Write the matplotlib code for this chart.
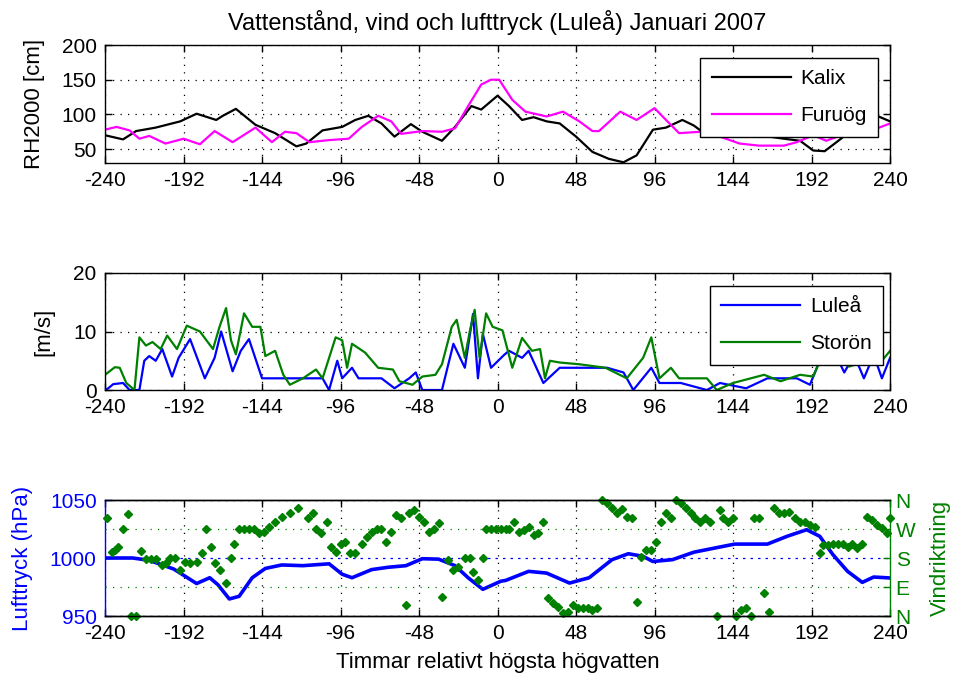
import matplotlib
matplotlib.use('Agg')
import matplotlib.pyplot as plt

plt.rcParams['font.family'] = ['Liberation Sans', 'DejaVu Sans']
plt.rcParams['font.size'] = 15
plt.rcParams['axes.unicode_minus'] = False

# ---------------- data ----------------
xticks = [-240, -192, -144, -96, -48, 0, 48, 96, 144, 192, 240]

kalix_h = [-240, -229, -221, -209, -194, -184, -172, -168, -160, -148, -136, -123, -117,
           -107, -95, -87, -79, -71, -63, -53, -46, -34, -26, -16, -10, 0, 7, 15, 22, 30,
           38, 48, 58, 68, 77, 85, 95, 103, 113, 120, 124, 135, 145, 160, 175, 185, 193,
           200, 210, 220, 230, 240]
kalix_v = [70, 64, 76, 81, 90, 101, 92, 98, 108, 85, 73, 54, 58,
           77, 82, 92, 98, 87, 68, 86, 75, 62, 82, 112, 107, 127, 112, 92, 96, 90,
           87, 68, 46, 36, 31, 41, 78, 81, 92, 84, 77, 72, 75, 70, 65, 62, 48,
           47, 65, 85, 100, 90]

furuog_h = [-240, -233, -225, -219, -213, -203, -192, -182, -173, -162, -148, -138, -130,
            -123, -115, -103, -91, -83, -73, -65, -59, -46, -34, -26, -18, -10, -4, 1, 9,
            17, 30, 40, 50, 58, 62, 75, 85, 96, 103, 111, 124, 136, 148, 160, 175, 183,
            193, 201, 210, 220, 230, 240]
furuog_v = [78, 82, 77, 65, 69, 58, 65, 57, 76, 60, 81, 60, 75,
            73, 60, 63, 65, 82, 98, 90, 72, 76, 75, 80, 112, 143, 150, 150, 121,
            104, 97, 104, 90, 76, 76, 104, 92, 109, 92, 73, 75, 68, 58, 55, 55, 60,
            70, 62, 70, 75, 78, 87]

lulea_h = [-240, -238, -235, -229, -225, -219, -216, -213, -209, -205, -199, -195, -188,
           -179, -173, -169, -162, -157, -152, -144, -107, -103, -98, -95, -89, -85, -71,
           -63, -54, -50, -46, -34, -27, -20, -15, -12, -9, -4, 4, 7, 15, 19, 28, 38, 50,
           67, 77, 83, 94, 99, 112, 128, 136, 152, 165, 183, 191, 197, 205, 212, 218,
           224, 230, 235, 240]
lulea_v = [0, 0.3, 1, 1.2, 0, 0, 5, 5.8, 5, 7, 2.3, 5.5, 8.7,
           2, 5.5, 10, 3.2, 6.7, 8.7, 2, 2, 0, 5, 2, 3.8, 2, 2,
           0.3, 2, 3, 0, 0, 7.9, 3.8, 13, 2, 9.6, 3.8, 6, 6.7, 5.5, 6.7, 1.2, 3.8, 3.8,
           3.8, 3, 0, 3.8, 1.2, 1.2, 0, 1.2, 0.3, 2, 2, 0.9, 5, 7, 3, 6,
           2, 6, 2, 5.5]

storon_h = [-240, -234, -231, -227, -222, -219, -215, -211, -206, -202, -196, -190, -182,
            -174, -170, -166, -163, -160, -155, -150, -145, -142, -136, -131, -127, -119,
            -111, -107, -99, -95, -92, -89, -81, -73, -64, -60, -52, -46, -38, -34, -28,
            -25, -20, -17, -14, -11, -7, -3, 3, 9, 15, 21, 26, 29, 32, 38, 50, 66, 79, 89,
            94, 99, 106, 111, 128, 134, 144, 163, 173, 185, 193, 197, 205, 215, 225, 235,
            240]
storon_v = [2.6, 3.9, 3.8, 1.2, 0, 9, 7.6, 8.2, 7, 9.3, 7, 11, 10,
            7, 10.8, 14, 8.5, 6.1, 13.1, 10.8, 10.8, 5.8, 6.7, 2.6, 0.9, 2,
            3.5, 2, 9, 8.5, 3.8, 7.9, 6.4, 3.8, 3.5, 1.5, 0.9, 2.3, 2.6, 4.4, 10.8,
            12, 5.5, 10, 13.7, 5.5, 13.1, 10.8, 10.2, 3.8, 8.9, 6.7, 7, 2, 5, 4.7, 4.4, 3.8, 2, 5.5,
            9, 2, 3.8, 2, 2, 0, 1.2, 2.6, 1.5, 2.6, 2.3, 5, 6, 4, 5, 5,
            6.7]

pres_h = [-240, -223, -213, -198, -184, -176, -171, -164, -158, -150, -142, -132, -119,
          -103, -95, -89, -77, -67, -56, -46, -36, -26, -18, -9, 2, 5, 19, 30, 44, 56, 70,
          80, 89, 95, 107, 120, 136, 145, 165, 177, 189, 197, 205, 214, 223, 230, 240]
pres_v = [1000, 1000, 998, 990.5, 978, 983, 977, 964.7, 967, 983, 991, 994, 993.4,
          995, 986, 983, 990, 992, 993.4, 999.4, 999, 993.4, 983, 973, 980, 980.7, 988.5,
          987, 978.4, 983, 998.6, 1003.7, 1001.4, 997, 998.6, 1005, 1009.5, 1012, 1012,
          1018.7, 1024.4, 1018.7, 1003, 988.5, 979, 983.6, 982.8]

dir_h = [-239, -236, -234, -232, -229, -226, -224, -221, -218, -215, -212, -209, -205,
         -203, -200, -197, -194, -191, -188, -184, -181, -178, -175, -173, -170, -166,
         -163, -161, -158, -155, -152, -149, -146, -143, -140, -136, -132, -127, -122,
         -116, -113, -111, -108, -104, -102, -99, -96, -93, -90, -87, -83, -80, -77, -74,
         -71, -68, -65, -62, -59, -56, -54, -51, -48, -45, -42, -39, -36, -34, -30, -27,
         -24, -20, -17, -15, -12, -9, -7, -4, -1, 2, 5, 7, 10, 13, 16, 19, 22, 25, 28, 31,
         34, 37, 40, 43, 46, 49, 52, 55, 58, 61, 64, 67, 70, 73, 76, 79, 82, 85, 88, 91,
         94, 97, 100, 103, 106, 109, 112, 115, 118, 121, 124, 127, 130, 134, 136, 138,
         141, 144, 146, 149, 152, 155, 157, 160, 163, 166, 169, 172, 175, 178, 182, 185,
         188, 191, 194, 197, 199, 202, 205, 208, 211, 214, 217, 220, 223, 226, 229, 232,
         235, 238, 240]
dir_v = [303, 200, 205, 215, 269, 317, 0, 0, 203, 178, 178, 178, 158,
         163, 179, 179, 143, 169, 166, 169, 194, 269, 213, 166, 143, 101,
         179, 225, 269, 269, 269, 269, 257, 262, 277, 293, 308, 321, 334,
         303, 319, 269, 257, 293, 215, 200, 225, 231, 194, 194, 225, 246, 262, 269,
         269, 231, 262, 313, 303, 34, 319, 329, 308, 293, 262, 269, 288, 60, 174, 143,
         153, 179, 179, 138, 112, 179, 269, 269, 269, 269, 269, 269, 293, 262, 267, 277, 251, 257, 293, 55,
         39, 29, 8, 13, 34, 24, 24, 24, 19, 24, 360, 350, 334, 319, 331, 308, 303, 44, 184, 205,
         205, 231, 293, 319, 303, 360, 350, 334, 319, 303, 293, 303, 293, 0, 329, 303,
         293, 303, 0, 19, 24, 0, 303, 303, 72, 13, 334, 319, 319, 324, 303, 293,
         293, 282, 277, 194, 220, 220, 225, 225, 225, 215, 225, 210, 225, 308, 298, 282,
         272, 257, 303]

dir_ticks = [0, 90, 180, 270, 360]
dir_labels = ['N', 'E', 'S', 'W', 'N']

# ---------------- figure ----------------
GREEN = (0, 0.5, 0)
BLUE = (0, 0, 1)
GRID = dict(color='k', linestyle=(0, (1, 5)), linewidth=0.9)
LABEL_FS = 16
LEG = dict(borderaxespad=0, fancybox=False, edgecolor='k', framealpha=1,
           handlelength=3.8, handletextpad=0.45, borderpad=0.55, labelspacing=0.85)

fig = plt.figure(figsize=(9.54, 6.84), dpi=100)
ax1 = fig.add_axes([0.1101, 0.7617, 0.8229, 0.1725])
ax2 = fig.add_axes([0.1101, 0.4298, 0.8229, 0.1711])
ax3 = fig.add_axes([0.1101, 0.0994, 0.8229, 0.1696])

for ax in (ax1, ax2, ax3):
    ax.set_xlim(-240, 240)
    ax.set_xticks(xticks)
    ax.tick_params(direction='in', length=5, width=1, pad=6, top=True, right=True)
    for s in ax.spines.values():
        s.set_linewidth(1.0)

# top panel
ax1.plot(kalix_h, kalix_v, color='k', lw=1.6, label='Kalix')
ax1.plot(furuog_h, furuog_v, color=(1, 0, 1), lw=1.6, label='Furuög')
ax1.set_ylim(30, 200)
ax1.set_yticks([50, 100, 150, 200])
ax1.grid(True, **GRID)
ax1.set_ylabel('RH2000 [cm]', fontsize=LABEL_FS)
ax1.yaxis.set_label_coords(-0.076, 0.5)
ax1.set_title('Vattenstånd, vind och lufttryck (Luleå) Januari 2007', fontsize=17, pad=11)
leg1 = ax1.legend(loc='upper right', bbox_to_anchor=(0.985, 0.89), **LEG)
leg1.get_frame().set_linewidth(1.0)

# middle panel
ax2.plot(lulea_h, lulea_v, color=BLUE, lw=1.6, label='Luleå')
ax2.plot(storon_h, storon_v, color=GREEN, lw=1.6, label='Storön')
ax2.set_ylim(0, 20)
ax2.set_yticks([0, 10, 20])
ax2.grid(True, **GRID)
ax2.set_ylabel('[m/s]', fontsize=LABEL_FS)
ax2.yaxis.set_label_coords(-0.064, 0.5)
leg2 = ax2.legend(loc='upper right', bbox_to_anchor=(0.991, 0.889), **LEG)
leg2.get_frame().set_linewidth(1.0)

# bottom panel
ax3.plot(pres_h, pres_v, color=BLUE, lw=2.6, zorder=3)
ax3.set_ylim(950, 1050)
ax3.set_yticks([950, 1000, 1050])
ax3.grid(True, axis='x', **GRID)
ax3.grid(True, axis='y', color=BLUE, linestyle=(0, (2, 4)), linewidth=0.9)
ax3.tick_params(axis='y', colors=BLUE, right=False)
ax3.spines['left'].set_color(BLUE)
ax3.spines['right'].set_visible(False)
ax3.set_ylabel('Lufttryck (hPa)', color=BLUE, fontsize=LABEL_FS)
ax3.yaxis.set_label_coords(-0.092, 0.5)
ax3.set_xlabel('Timmar relativt högsta högvatten', fontsize=LABEL_FS)
ax3.xaxis.set_label_coords(0.5, -0.31)

ax3r = ax3.twinx()
ax3r.plot(dir_h, dir_v, linestyle='none', marker='D', markersize=4.5, color=GREEN,
          clip_on=False)
ax3r.set_ylim(0, 360)
ax3r.set_yticks(dir_ticks)
ax3r.set_yticklabels(dir_labels)
ax3r.tick_params(axis='y', direction='in', length=5, width=1, pad=4, colors=GREEN)
ax3r.grid(True, axis='y', color=GREEN, linestyle=(0, (1, 5)), linewidth=0.9)
gl = ax3r.yaxis.get_gridlines()
gl[2].set_visible(False)
ax3r.spines['right'].set_color(GREEN)
ax3r.spines['right'].set_linewidth(1.0)
ax3r.spines['left'].set_visible(False)
ax3r.spines['top'].set_linewidth(1.0)
ax3r.spines['bottom'].set_linewidth(1.0)
ax3r.set_ylabel('Vindriktning', color=GREEN, fontsize=LABEL_FS)
ax3r.yaxis.set_label_coords(1.051, 0.5)

fig.savefig('out.png', dpi=100)
